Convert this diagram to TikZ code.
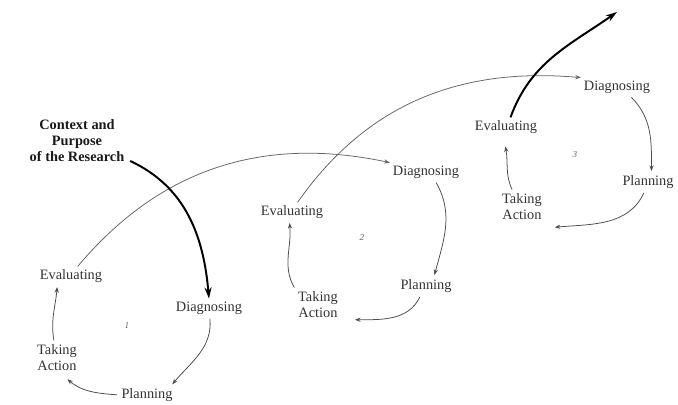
\documentclass[tikz,border=0pt]{standalone}
\usepackage{fontspec}
\setmainfont{Liberation Serif}
\usetikzlibrary{arrows.meta}

\begin{document}
\begin{tikzpicture}[
  x=0.025cm, y=-0.025cm,
  font=\fontsize{10.2}{11.4}\selectfont,
  >={Stealth[length=4pt,width=3pt]},
  every node/.style={align=center, inner sep=2pt},
  stage/.style={text=black!80},
  source/.style={font=\fontsize{10.2}{11.4}\selectfont\bfseries, text=black!90},
  lap/.style={font=\fontsize{6.5}{7}\selectfont\itshape, text=black!60},
  cyc/.style={->, draw=black!70, line width=0.55pt, shorten >=1pt, shorten <=1pt},
  spiral/.style={->, draw=black!60, line width=0.55pt},
  thrust/.style={-{Stealth[length=8pt,width=5pt]}, line width=1.4pt}
]
\useasboundingbox (0,0) rectangle (678,405);

% --- Entry point ---
\node[source] (ctx) at (77,141) {Context and\\Purpose\\of the Research};

% --- Cycle 1 ---
\node[stage] (diag1) at (209,308) {Diagnosing};
\node[stage] (plan1) at (147,395) {Planning};
\node[stage] (act1)  at (57,358)  {Taking\\Action};
\node[stage] (eval1) at (71,276)  {Evaluating};
\node[lap]   (lap1)  at (127,325) {1};

% --- Cycle 2 ---
\node[stage] (diag2) at (426,172) {Diagnosing};
\node[stage] (plan2) at (426,286) {Planning};
\node[stage] (act2)  at (318,305) {Taking\\Action};
\node[stage] (eval2) at (292,212) {Evaluating};
\node[lap]   (lap2)  at (362,237) {2};

% --- Cycle 3 ---
\node[stage] (diag3) at (617,87)  {Diagnosing};
\node[stage] (plan3) at (648,182) {Planning};
\node[stage] (act3)  at (522,207) {Taking\\Action};
\node[stage] (eval3) at (506,127) {Evaluating};
\node[lap]   (lap3)  at (575,155) {3};

\coordinate (next) at (617,12);

% --- Arrows inside each cycle ---
\draw[cyc] (diag1.-85) to[out=-85, in=50] ([xshift=-3pt]plan1.north east);
\draw[cyc] (plan1.west) to[out=175, in=-40] ([yshift=-3pt]act1.-60);
\draw[cyc] (act1.100) to[out=100, in=-95] (eval1.-145);

\draw[cyc] (diag2.-45) to[out=-60, in=75] (plan2.50);
\draw[cyc] (plan2.-120) to[out=-115, in=0] ([xshift=9pt,yshift=1pt]act2.south east);
\draw[cyc] (act2.north west) to[out=120, in=-85] (eval2.-105);

\draw[cyc] (diag3.-35) to[out=-45, in=90] (plan3.70);
\draw[cyc] (plan3.-110) to[out=-115, in=5] ([xshift=6pt,yshift=-3pt]act3.south east);
\draw[cyc] (act3.120) to[out=115, in=-80] ([yshift=-6pt]eval3.-95);

% --- Arcs linking the cycles ---
\draw[spiral] (eval1.55) to[out=50, in=168] (diag2.north west);
\draw[spiral] (eval2.60) to[out=55, in=175] (diag3.north west);

% --- Bold entry and exit ---
\draw[thrust] ([xshift=2pt,yshift=3pt]ctx.south east) to[out=-25, in=95] (diag1.north);
\draw[thrust] (eval3.65) to[out=70, in=-145] (next);

\end{tikzpicture}
\end{document}
